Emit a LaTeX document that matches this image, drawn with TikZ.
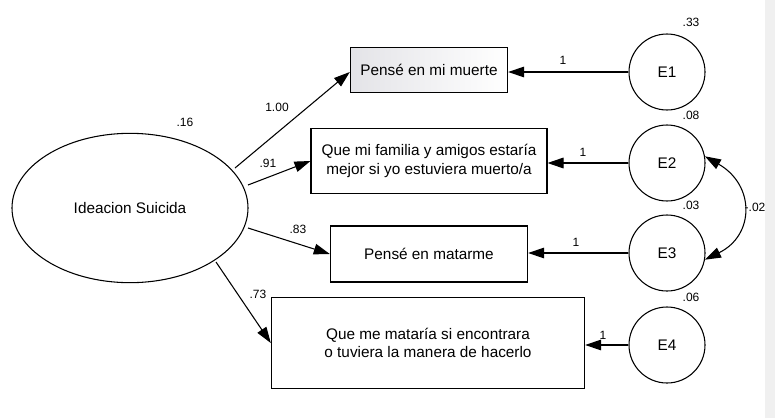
\documentclass[tikz,border=0pt]{standalone}
\usepackage{fontspec}
\setmainfont{Liberation Sans}
\usetikzlibrary{shapes.geometric, arrows.meta}

\tikzset{
  obsbox/.style={draw, thick, minimum width=#1, inner sep=0pt, align=center, font=\fontsize{11.5}{14}\selectfont},
  errcirc/.style={draw, thick, circle, minimum size=57pt, inner sep=0pt, font=\fontsize{11.5}{14}\selectfont},
  loadarrow/.style={thick, -{Triangle[length=12pt, width=8pt]}},
  coef/.style={font=\fontsize{9}{10}\selectfont}
}

\begin{document}
\begin{tikzpicture}[x=0.75pt, y=-0.75pt]
        % Frame
        \useasboundingbox (0,0) rectangle (775,418);
        \fill[white] (0,0) rectangle (765,418);
        \fill[black!6] (765,0) rectangle (775,418);

        % Latent variable
        \node[draw, thick, ellipse, minimum width=177pt, minimum height=112pt, font=\fontsize{11.5}{14}\selectfont] (ideacion) at (130,208) {Ideacion Suicida};
        \node[coef] at (185,122) {.16};

        % Indicators
        \node[obsbox=118pt, minimum height=34pt, left color=blue!8!gray!20, right color=white] (muerte) at (429,70) {Pensé en mi muerte};
        \node[obsbox=177pt, minimum height=49pt] (familia) at (429,161) {Que mi familia y amigos estaría\\mejor si yo estuviera muerto/a};
        \node[obsbox=148pt, minimum height=42pt] (matarme) at (429,254) {Pensé en matarme};
        \node[obsbox=235pt, minimum height=68pt] (manera) at (428,343) {Que me mataría si encontrara\\o tuviera la manera de hacerlo};

        % Errors
        \node[errcirc] (e1) at (667,72) {E1};
        \node[errcirc] (e2) at (667,163) {E2};
        \node[errcirc] (e3) at (667,253) {E3};
        \node[errcirc] (e4) at (667,345) {E4};
        \node[coef] at (691,22) {.33};
        \node[coef] at (691,115) {.08};
        \node[coef] at (691,205) {.03};
        \node[coef] at (691,297) {.06};

        % Loadings
        \draw[loadarrow] (235,168) -- (muerte.west |- 0,72);
        \node[coef] at (277,107) {1.00};
        \draw[loadarrow] (248,185) -- (familia.west);
        \node[coef] at (268,163) {.91};
        \draw[loadarrow] (248,228) -- (matarme.west);
        \node[coef] at (298,229) {.83};
        \draw[loadarrow] (216,262) -- (manera.west);
        \node[coef] at (258,294) {.73};

        % Error paths
        \draw[loadarrow] (e1.west) -- (muerte.east |- e1.west);
        \node[coef] at (563,60) {1};
        \draw[loadarrow] (e2.west) -- (familia.east |- e2.west);
        \node[coef] at (583,152) {1};
        \draw[loadarrow] (e3.west) -- (matarme.east |- e3.west);
        \node[coef] at (576,242) {1};
        \draw[loadarrow] (e4.west) -- (manera.east |- e4.west);
        \node[coef] at (603,335) {1};

        % Covariance
        \draw[thick, {Triangle[length=12pt, width=8pt]}-{Triangle[length=12pt, width=8pt]}] (e2.10) .. controls (755,185) and (755,235) .. (e3.-10);
        \node[coef] at (755,207) {-.02};
\end{tikzpicture}
\end{document}
